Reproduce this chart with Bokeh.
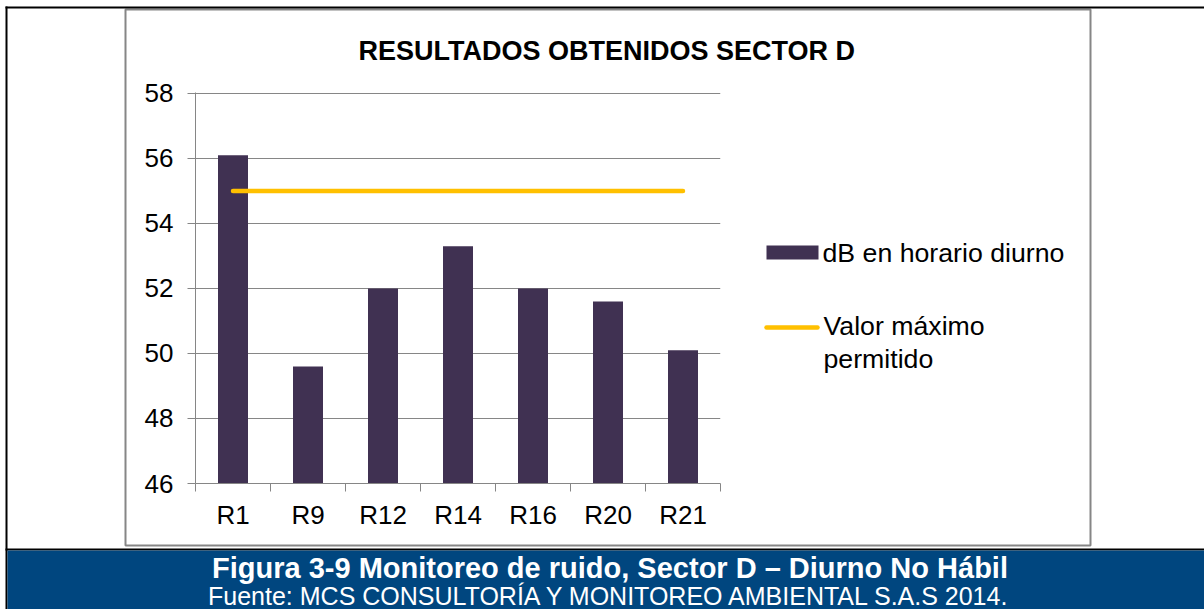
from bokeh.plotting import figure
from bokeh.models import (Range1d, FixedTicker)
from bokeh.core.properties import value
from bokeh.embed import file_html
from bokeh.resources import INLINE

# ---- data ----
categories = ["R1", "R9", "R12", "R14", "R16", "R20", "R21"]
db_values = [56.1, 49.6, 52.0, 53.3, 52.0, 51.6, 50.1]
limit_values = [55, 55, 55, 55, 55, 55, 55]
y_ticks = [46, 48, 50, 52, 54, 56, 58]
title_text = "RESULTADOS OBTENIDOS SECTOR D"
bar_label = "dB en horario diurno"
line_label = "Valor máximo\npermitido"
caption_1 = "Figura 3-9 Monitoreo de ruido, Sector D \u2013 Diurno No Hábil"
caption_2 = "Fuente: MCS CONSULTORÍA Y MONITOREO AMBIENTAL S.A.S 2014."

BAR_COLOR = "#403152"
LINE_COLOR = "#FFC000"

# category slots: each category occupies one unit, centred at i + 0.5
n = len(categories)
centres = [i + 0.5 for i in range(n)]
bounds = list(range(n + 1))

# ---- layout (canvas pixels) ----
W, H = 1204, 609
L, R, T, B = 195, 720, 92, 483
FONT = "Liberation Sans"
GRAY = "#868686"

p = figure(width=W, height=H, x_range=Range1d(0, n),
           y_range=Range1d(y_ticks[0], y_ticks[-1] + 0.03),
           output_backend="svg", toolbar_location=None,
           x_axis_location="below", y_axis_location="left",
           min_border_left=L, min_border_right=W - R,
           min_border_top=T, min_border_bottom=H - B)
p.background_fill_color = "white"
p.border_fill_color = "white"
p.outline_line_color = None

# pixel coordinate system for page decorations (canvas px, y downwards)
p.extra_x_ranges = {"px": Range1d(L, R)}
p.extra_y_ranges = {"py": Range1d(B, T)}

# y axis
p.yaxis.ticker = FixedTicker(ticks=y_ticks)
p.yaxis.axis_line_color = GRAY
p.yaxis.major_tick_line_color = GRAY
p.yaxis.major_tick_out = 8
p.yaxis.major_tick_in = 0
p.yaxis.minor_tick_line_color = None
p.yaxis.major_label_text_font = FONT
p.yaxis.major_label_text_font_size = "26px"
p.yaxis.major_label_text_color = "black"
p.yaxis.major_label_standoff = 14

p.ygrid.ticker = FixedTicker(ticks=y_ticks)
p.ygrid.grid_line_color = GRAY
p.ygrid.grid_line_width = 1
p.xgrid.visible = False

# x axis: labels at category centres, ticks at category boundaries
xaxis = p.xaxis[0]
xaxis.ticker = FixedTicker(ticks=centres, minor_ticks=bounds)
xaxis.major_label_overrides = {c: lab for c, lab in zip(centres, categories)}
xaxis.axis_line_color = GRAY
xaxis.major_tick_line_color = None
xaxis.minor_tick_line_color = GRAY
xaxis.minor_tick_out = 8
xaxis.minor_tick_in = 0
xaxis.major_label_text_font = FONT
xaxis.major_label_text_font_size = "26px"
xaxis.major_label_text_color = "black"
xaxis.major_label_standoff = 8

# title
p.title.text = title_text
p.title.align = "left"
p.title.offset = 163
p.title.standoff = 54
p.title.text_font = FONT
p.title.text_font_style = "bold"
p.title.text_font_size = "27px"
p.title.text_color = "black"

# data marks
bars = p.vbar(x=centres, top=db_values, bottom=y_ticks[0], width=0.4,
              fill_color=BAR_COLOR, line_color=None)
limit = p.line(x=centres, y=limit_values, line_color=LINE_COLOR,
               line_width=4.5, line_cap="round")

# page decorations and legend, drawn in canvas-pixel coordinates at top level
deco = dict(x_range_name="px", y_range_name="py", level="overlay")
# chart area border
p.quad(left=[125], right=[1090], top=[9], bottom=[545], fill_color=None,
       line_color=GRAY, line_width=2, **deco)
# black frame lines and caption band
p.quad(left=[5, 5, 5], right=[1204, 7, 1204], top=[6, 6, 548], bottom=[8, 609, 550],
       fill_color="black", line_color=None, **deco)
p.quad(left=[7], right=[1204], top=[550], bottom=[609],
       fill_color="#00467F", line_color=None, **deco)

# legend
p.quad(left=[766], right=[818], top=[245], bottom=[259],
       fill_color=BAR_COLOR, line_color=None, **deco)
p.segment(x0=[766], x1=[817], y0=[327], y1=[327], line_color=LINE_COLOR,
          line_width=4.5, line_cap="round", **deco)
p.text(x=[822], y=[252], text=[bar_label], text_align="left", text_baseline="middle",
       text_font=value(FONT), text_font_size="26.7px", text_color="black", **deco)
p.text(x=[823], y=[342], text=[line_label], text_align="left", text_baseline="middle",
       text_font=value(FONT), text_font_size="26.7px", text_color="black",
       text_line_height=1.12, **deco)

# caption texts
p.text(x=[609.5], y=[567], text=[caption_1], text_align="center", text_baseline="middle",
       text_font=value(FONT), text_font_style="bold", text_font_size="29px",
       text_color="white", **deco)
p.text(x=[609.5], y=[595], text=[caption_2], text_align="center", text_baseline="middle",
       text_font=value(FONT), text_font_size="25px", text_color="white", **deco)

open("out.html", "w").write(file_html(p, INLINE))
